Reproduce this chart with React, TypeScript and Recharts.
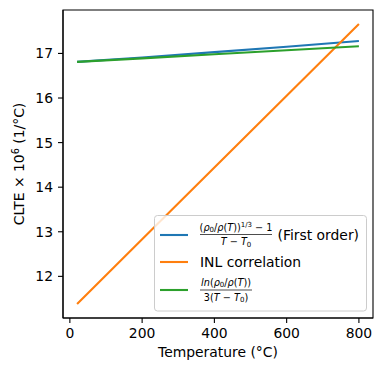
import { LineChart, Line, XAxis, YAxis, ReferenceArea } from 'recharts';

// Temperature (°C) sample points
const temps = [20, 200, 400, 600, 800];
// CLTE x 10^6 (1/°C) for each formulation
const firstOrder = [16.81, 16.91, 17.03, 17.15, 17.28];
const inlCorrelation = [11.38, 12.83, 14.44, 16.05, 17.66];
const logForm = [16.81, 16.89, 16.98, 17.07, 17.16];

const xTicks = [0, 200, 400, 600, 800];
const yTicks = [12, 13, 14, 15, 16, 17];
const xDomain = [-19, 839];
const yDomain = [11.066, 17.974];

const seriesColors = ['#1f77b4', '#ff7f0e', '#2ca02c'];

const data = temps.map((t, i) => ({
  t,
  first: firstOrder[i],
  inl: inlCorrelation[i],
  log: logForm[i],
}));

const FONT = '"DejaVu Sans", sans-serif';
const FS = 13.9;
const MS = 9.7;

function Overlay() {
  return (
    <svg width={382} height={371} style={{ position: 'absolute', left: 0, top: 0, pointerEvents: 'none' }} fontFamily={FONT}>
      {/* axis labels */}
      <text x={218} y={357} fontSize={FS} textAnchor="middle" fill="#000">Temperature (°C)</text>
      <text transform="translate(24,164) rotate(-90)" fontSize={FS} textAnchor="middle" fill="#000">
        CLTE × 10<tspan fontSize={9.7} dy={-5.5}>6</tspan><tspan dy={5.5}> (1/°C)</tspan>
      </text>

      {/* legend */}
      <rect x={154.5} y={215.5} width={212} height={95.5} rx={3} fill="#fff" fillOpacity={0.8} stroke="#cccccc" strokeWidth={1} />

      <line x1={160} x2={188} y1={235} y2={235} stroke={seriesColors[0]} strokeWidth={2.1} />
      <text x={236} y={230.5} fontSize={MS} textAnchor="middle" fill="#000">
        (<tspan fontStyle="italic">ρ</tspan><tspan fontSize={7} dy={1.5}>0</tspan><tspan dy={-1.5}>/</tspan><tspan fontStyle="italic">ρ</tspan>(<tspan fontStyle="italic">T</tspan>))<tspan fontSize={7} dy={-3.5}>1/3</tspan><tspan dy={3.5}> − 1</tspan>
      </text>
      <line x1={200} x2={272} y1={234.5} y2={234.5} stroke="#000" strokeWidth={0.7} />
      <text x={236} y={245} fontSize={MS} textAnchor="middle" fill="#000">
        <tspan fontStyle="italic">T</tspan> − <tspan fontStyle="italic">T</tspan><tspan fontSize={7} dy={1.5}>0</tspan>
      </text>
      <text x={277.5} y={240} fontSize={FS} fill="#000">(First order)</text>

      <line x1={160} x2={188} y1={262} y2={262} stroke={seriesColors[1]} strokeWidth={2.1} />
      <text x={200} y={267} fontSize={FS} fill="#000">INL correlation</text>

      <line x1={160} x2={188} y1={290} y2={290} stroke={seriesColors[2]} strokeWidth={2.1} />
      <text x={226} y={285.5} fontSize={MS} textAnchor="middle" fill="#000">
        <tspan fontStyle="italic">ln</tspan>(<tspan fontStyle="italic">ρ</tspan><tspan fontSize={7} dy={1.5}>0</tspan><tspan dy={-1.5}>/</tspan><tspan fontStyle="italic">ρ</tspan>(<tspan fontStyle="italic">T</tspan>))
      </text>
      <line x1={200} x2={252} y1={290} y2={290} stroke="#000" strokeWidth={0.7} />
      <text x={226} y={300.5} fontSize={MS} textAnchor="middle" fill="#000">
        3(<tspan fontStyle="italic">T</tspan> − <tspan fontStyle="italic">T</tspan><tspan fontSize={7} dy={1.5}>0</tspan><tspan dy={-1.5}>)</tspan>
      </text>
    </svg>
  );
}

export default function App() {
  const tickStyle = { fontSize: FS, fontFamily: FONT, fill: '#000' };
  return (
    <div style={{ position: 'absolute', left: 0, top: 0, width: 382, height: 371, background: '#fff' }}>
      <LineChart width={382} height={371} data={data} margin={{ top: 10, right: 9, bottom: 0, left: 0 }}>
        <XAxis
          dataKey="t"
          type="number"
          domain={xDomain}
          ticks={xTicks}
          allowDataOverflow
          height={53}
          tickSize={5}
          tickMargin={5}
          tick={tickStyle}
          axisLine={{ stroke: '#000', strokeWidth: 1.1 }}
          tickLine={{ stroke: '#000', strokeWidth: 1.1 }}
        />
        <YAxis
          type="number"
          domain={yDomain}
          ticks={yTicks}
          allowDataOverflow
          width={63}
          tickSize={5}
          tickMargin={5}
          tick={tickStyle}
          axisLine={{ stroke: '#000', strokeWidth: 1.1 }}
          tickLine={{ stroke: '#000', strokeWidth: 1.1 }}
        />
        <ReferenceArea x1={xDomain[0]} x2={xDomain[1]} y1={yDomain[0]} y2={yDomain[1]} fill="none" stroke="#000" strokeWidth={1.1} ifOverflow="visible" />
        <Line type="linear" dataKey="first" stroke={seriesColors[0]} strokeWidth={2.1} dot={false} isAnimationActive={false} />
        <Line type="linear" dataKey="inl" stroke={seriesColors[1]} strokeWidth={2.1} dot={false} isAnimationActive={false} />
        <Line type="linear" dataKey="log" stroke={seriesColors[2]} strokeWidth={2.1} dot={false} isAnimationActive={false} />
      </LineChart>
      <Overlay />
    </div>
  );
}
